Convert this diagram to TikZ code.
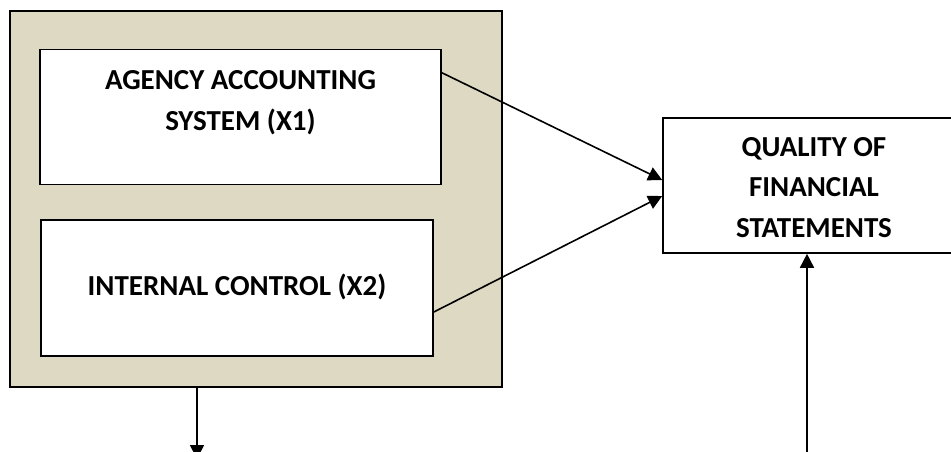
\documentclass[tikz,border=0pt]{standalone}
\usepackage{fontspec}
\setmainfont{Carlito}
\usetikzlibrary{arrows.meta}
\definecolor{tanfill}{HTML}{DDD9C3}
\begin{document}
\begin{tikzpicture}[x=1pt,y=-1pt,
  frame/.style={draw=black,line width=1.6pt,fill=tanfill,inner sep=0pt},
  box/.style={draw=black,line width=1.6pt,fill=white,inner sep=0pt},
  caption/.style={font=\fontsize{29}{40.7}\selectfont\bfseries,align=center,anchor=base,inner sep=0pt},
  conn/.style={line width=1.6pt,-{Triangle[length=14pt,width=14pt]}}]
\useasboundingbox (0,0) rectangle (951,451);
\clip (0,0) rectangle (951,451);

% grouping panel with the two independent variables
\node[frame,minimum width=492pt,minimum height=376pt] (panel) at (256,199) {};
\node[box,minimum width=401pt,minimum height=135pt] (acc) at (240.5,117) {};
\node[caption] (acc-text) at (240.5,130) {AGENCY ACCOUNTING\\SYSTEM (X1)};
\node[box,minimum width=392pt,minimum height=136pt] (ctl) at (237,288) {};
\node[caption] (ctl-text) at (237,295) {INTERNAL CONTROL (X2)};

% dependent variable
\node[box,minimum width=302pt,minimum height=135pt] (qual) at (814,185.5) {};
\node[caption] (qual-text) at (814,237.5) {QUALITY OF\\FINANCIAL\\STATEMENTS};

% free ends of the vertical connectors
\coordinate (down-end) at (197,459);
\coordinate (up-start) at (807,460);

\draw[conn] ([yshift=-24pt]acc.north east) -- ([yshift=5.5pt]qual.west);
\draw[conn] ([yshift=-24pt]ctl.east) -- ([yshift=-10.5pt]qual.west);
\draw[conn] ([xshift=-59pt]panel.south) -- (down-end);
\draw[conn] (up-start) -- ([xshift=-7pt]qual.south);
\end{tikzpicture}
\end{document}
